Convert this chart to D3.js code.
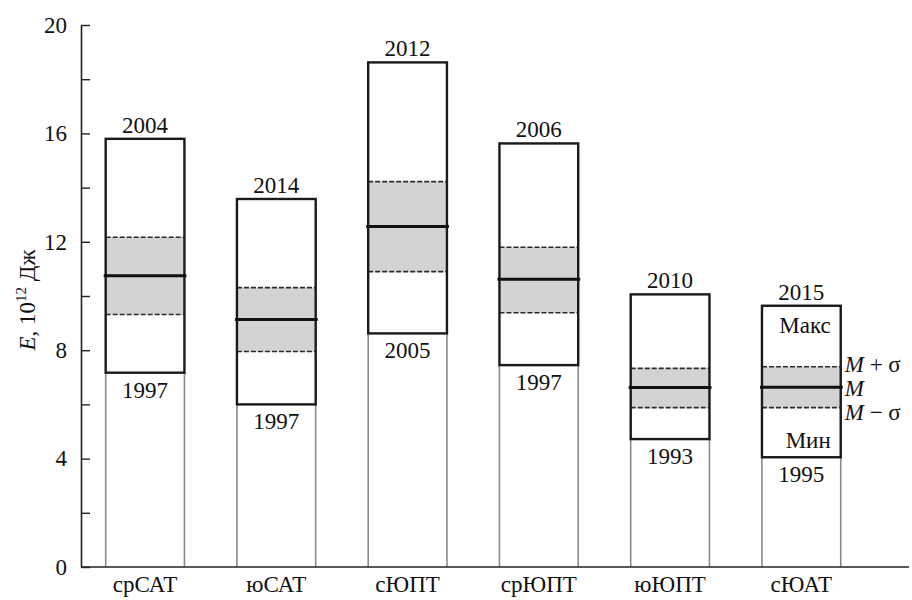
<!DOCTYPE html>
<html>
<head>
<meta charset="utf-8">
<script src="https://cdn.jsdelivr.net/npm/d3@7"></script>
<style>
  html, body { margin: 0; padding: 0; background: #fff; }
  svg text { fill: #111; }
</style>
</head>
<body>
<svg id="chart" width="912" height="600"></svg>
<script>
// Energy E (10^12 J) per region: max, M+σ, mean M, M−σ, min, with the years of the extremes
const categories = ["срСАТ", "юСАТ", "сЮПТ", "срЮПТ", "юЮПТ", "сЮАТ"];
const maxValues = [15.8, 13.58, 18.62, 15.63, 10.06, 9.64];
const plusSigma = [12.17, 10.31, 14.22, 11.8, 7.33, 7.39];
const meanValues = [10.75, 9.13, 12.56, 10.62, 6.62, 6.63];
const minusSigma = [9.32, 7.95, 10.9, 9.38, 5.88, 5.88];
const minValues = [7.17, 6.0, 8.62, 7.45, 4.72, 4.05];
const maxYears = ["2004", "2014", "2012", "2006", "2010", "2015"];
const minYears = ["1997", "1997", "2005", "1997", "1993", "1995"];
const yTicks = [0, 2, 4, 6, 8, 10, 12, 14, 16, 18, 20];
const yTickLabels = [0, 4, 8, 12, 16, 20];

const svg = d3.select("#chart");

// pick the first serif face that is actually available
const serifCandidates = ["Liberation Serif", "Times New Roman", "Times", "Tinos",
  "Nimbus Roman", "Nimbus Roman No9 L", "FreeSerif", "Noto Serif", "DejaVu Serif"];
function pickSerif() {
  const probe = svg.append("text").attr("font-size", 40).text("Wiggle 2004 Макс");
  probe.attr("font-family", "monospace");
  const mono = probe.node().getComputedTextLength();
  probe.attr("font-family", "sans-serif");
  const sans = probe.node().getComputedTextLength();
  let found = null;
  for (const f of serifCandidates) {
    probe.attr("font-family", `"${f}", monospace`);
    const w1 = probe.node().getComputedTextLength();
    probe.attr("font-family", `"${f}", sans-serif`);
    const w2 = probe.node().getComputedTextLength();
    if (Math.abs(w1 - mono) > 0.5 && Math.abs(w2 - sans) > 0.5) { found = f; break; }
  }
  probe.remove();
  return found ? `"${found}", serif` : "serif";
}
const FONT = pickSerif();
svg.attr("font-family", FONT);

const axisX = 81, baseY = 567, topY = 25;

const y = d3.scaleLinear().domain([0, 20]).range([baseY, topY]);
const x = d3.scaleBand().domain(categories)
  .range([axisX, 865.4]).paddingInner(0.4).paddingOuter(0.188);
const bw = x.bandwidth();

const rows = categories.map((c, i) => ({
  c, max: maxValues[i], ps: plusSigma[i], m: meanValues[i], ms: minusSigma[i],
  min: minValues[i], maxYear: maxYears[i], minYear: minYears[i]
}));

// thin gray guides from the minimum down to the baseline
const g = svg.append("g");
rows.forEach(d => {
  [x(d.c), x(d.c) + bw].forEach(xx => {
    g.append("line").attr("x1", xx).attr("x2", xx)
      .attr("y1", y(d.min)).attr("y2", y(0))
      .attr("stroke", "#8a8a8a").attr("stroke-width", 1.6);
  });
});

// shaded M ± σ band
g.selectAll("rect.band").data(rows).join("rect")
  .attr("class", "band")
  .attr("x", d => x(d.c)).attr("width", bw)
  .attr("y", d => y(d.ps)).attr("height", d => y(d.ms) - y(d.ps))
  .attr("fill", "#d2d3d5");

// dashed σ lines
rows.forEach(d => {
  [d.ps, d.ms].forEach(v => {
    g.append("line").attr("x1", x(d.c)).attr("x2", x(d.c) + bw)
      .attr("y1", y(v)).attr("y2", y(v))
      .attr("stroke", "#2a2a2a").attr("stroke-width", 1.6)
      .attr("stroke-dasharray", "5,2");
  });
});

// min–max box outline
g.selectAll("rect.box").data(rows).join("rect")
  .attr("class", "box")
  .attr("x", d => x(d.c)).attr("width", bw)
  .attr("y", d => y(d.max)).attr("height", d => y(d.min) - y(d.max))
  .attr("fill", "none").attr("stroke", "#1a1a1a").attr("stroke-width", 2.4);

// mean line
g.selectAll("line.mean").data(rows).join("line")
  .attr("class", "mean")
  .attr("x1", d => x(d.c) - 2).attr("x2", d => x(d.c) + bw + 2)
  .attr("y1", d => y(d.m)).attr("y2", d => y(d.m))
  .attr("stroke", "#111").attr("stroke-width", 3);

// years of the maximum and minimum
g.selectAll("text.maxy").data(rows).join("text")
  .attr("x", d => x(d.c) + bw / 2).attr("y", d => y(d.max) - 6)
  .attr("text-anchor", "middle").attr("font-size", 23).text(d => d.maxYear);
g.selectAll("text.miny").data(rows).join("text")
  .attr("x", d => x(d.c) + bw / 2).attr("y", d => y(d.min) + 25)
  .attr("text-anchor", "middle").attr("font-size", 23).text(d => d.minYear);

// key drawn on the last box
const last = rows[rows.length - 1];
const lx = x(last.c);
svg.append("text").attr("x", lx + bw - 10).attr("y", y(last.max) + 27)
  .attr("text-anchor", "end").attr("font-size", 23).text("Макс");
svg.append("text").attr("x", lx + bw - 10).attr("y", y(last.min) - 9)
  .attr("text-anchor", "end").attr("font-size", 23).text("Мин");
const keyItems = [
  { v: last.ps, dy: 5, tail: " + σ" },
  { v: last.m, dy: 9, tail: "" },
  { v: last.ms, dy: 12, tail: " − σ" }
];
keyItems.forEach(k => {
  const t = svg.append("text").attr("x", lx + bw + 4).attr("y", y(k.v) + k.dy)
    .attr("font-size", 23);
  t.append("tspan").attr("font-style", "italic").text("M");
  if (k.tail) t.append("tspan").text(k.tail);
});

// y axis with inward ticks
const yAxis = d3.axisLeft(y).tickValues(yTicks).tickSizeInner(-9).tickSizeOuter(0)
  .tickPadding(14).tickFormat(v => yTickLabels.includes(v) ? v : "");
const ya = svg.append("g").attr("transform", `translate(${axisX},0)`).call(yAxis)
  .attr("font-family", FONT);
ya.select(".domain").attr("stroke", "#222").attr("stroke-width", 1.6);
ya.selectAll(".tick line").attr("stroke", "#222").attr("stroke-width", 1.4);
ya.selectAll(".tick text").attr("font-size", 23).attr("fill", "#111");

// x axis baseline and category labels
const xAxis = d3.axisBottom(x).tickSize(0).tickPadding(25);
const xa = svg.append("g").attr("transform", `translate(0,${baseY})`).call(xAxis)
  .attr("font-family", FONT);
xa.select(".domain").attr("d", `M${axisX},0H909`).attr("stroke", "#222").attr("stroke-width", 1.6);
xa.selectAll(".tick text").attr("font-size", 23).attr("fill", "#111").attr("dy", "0");

// y axis title
const title = svg.append("text")
  .attr("transform", "translate(35,300) rotate(-90)")
  .attr("text-anchor", "middle").attr("font-size", 23);
title.append("tspan").attr("font-style", "italic").text("E");
title.append("tspan").text(", 10");
title.append("tspan").attr("font-size", 15).attr("dy", -9).text("12");
title.append("tspan").attr("dy", 9).text(" Дж");
</script>
</body>
</html>
